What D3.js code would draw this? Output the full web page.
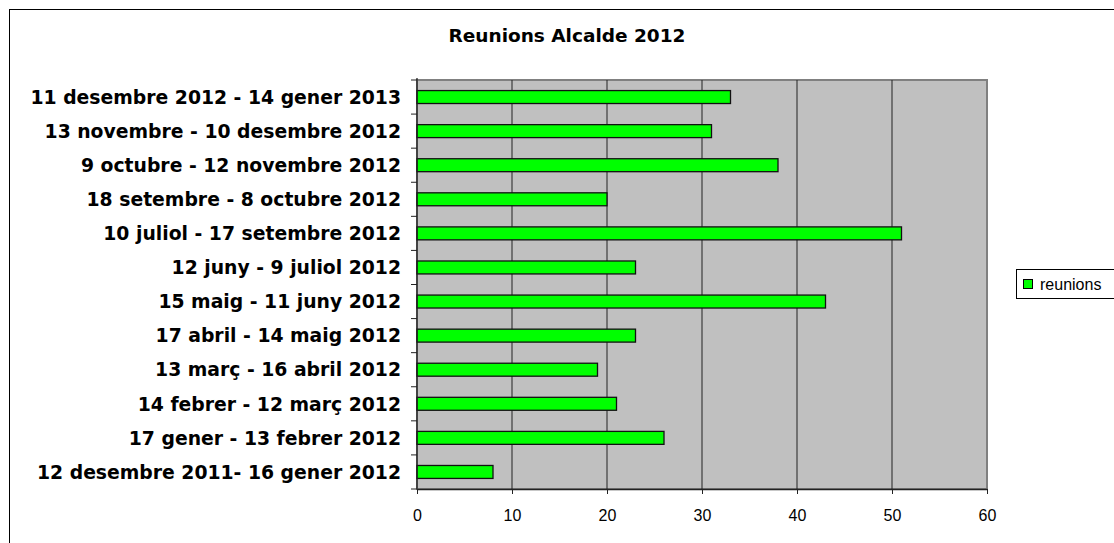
<!DOCTYPE html>
<html>
<head>
<meta charset="utf-8">
<script src="https://cdn.jsdelivr.net/npm/d3@7"></script>
<style>
  body { margin: 0; background: #fff; }
  svg { display: block; }
</style>
</head>
<body>
<div class="chart"></div>
<script>
var svgWidth = 1114;
var svgHeight = 543;

// periods, top to bottom as drawn
var periods = [
  "11 desembre 2012 - 14 gener 2013",
  "13 novembre - 10 desembre 2012",
  "9 octubre - 12 novembre 2012",
  "18 setembre - 8 octubre 2012",
  "10 juliol - 17 setembre 2012",
  "12 juny - 9 juliol 2012",
  "15 maig - 11 juny 2012",
  "17 abril - 14 maig 2012",
  "13 març - 16 abril 2012",
  "14 febrer - 12 març 2012",
  "17 gener - 13 febrer 2012",
  "12 desembre 2011- 16 gener 2012"
];
var reunions = [33, 31, 38, 20, 51, 23, 43, 23, 19, 21, 26, 8];
var xTicks = [0, 10, 20, 30, 40, 50, 60];

var svg = d3.select(".chart")
  .append("svg")
  .attr("width", svgWidth)
  .attr("height", svgHeight);

// outer chart border (runs off the right and bottom edges)
svg.append("rect")
  .attr("x", 9.5).attr("y", 9.5)
  .attr("width", 1120).attr("height", 560)
  .attr("fill", "#fff")
  .attr("stroke", "#000")
  .attr("stroke-width", 1);

var plot = { left: 417, top: 80, right: 987, bottom: 489 };

var x = d3.scaleLinear()
  .domain([0, 60])
  .range([plot.left, plot.right]);

var y = d3.scaleBand()
  .domain(periods)
  .range([plot.top, plot.bottom])
  .paddingInner(0.62)
  .paddingOuter(0.31);

var yOuter = d3.scaleBand()
  .domain(periods)
  .range([plot.top, plot.bottom]);

// title
svg.append("text")
  .attr("x", 567).attr("y", 42)
  .attr("text-anchor", "middle")
  .attr("font-family", "DejaVu Sans, Verdana, sans-serif")
  .attr("font-weight", "bold")
  .attr("font-size", 18.5)
  .text("Reunions Alcalde 2012");

// plot background
svg.append("rect")
  .attr("x", plot.left).attr("y", plot.top)
  .attr("width", plot.right - plot.left)
  .attr("height", plot.bottom - plot.top)
  .attr("fill", "#c0c0c0")
  .attr("stroke", "#808080")
  .attr("stroke-width", 2);

// gridlines
svg.selectAll("line.grid")
  .data(xTicks.slice(1, -1))
  .enter().append("line")
    .attr("class", "grid")
    .attr("x1", function(d) { return x(d); })
    .attr("x2", function(d) { return x(d); })
    .attr("y1", plot.top)
    .attr("y2", plot.bottom)
    .attr("stroke", "#222")
    .attr("stroke-width", 1);

// bars
svg.selectAll("rect.bar")
  .data(reunions)
  .enter().append("rect")
    .attr("class", "bar")
    .attr("x", x(0))
    .attr("y", function(d, i) { return y(periods[i]); })
    .attr("width", function(d) { return x(d) - x(0); })
    .attr("height", y.bandwidth())
    .attr("fill", "#00ff00")
    .attr("stroke", "#111")
    .attr("stroke-width", 1.3);

// x axis
var xAxis = d3.axisBottom(x)
  .tickValues(xTicks)
  .tickSize(5)
  .tickPadding(16)
  .tickSizeOuter(0);

var gx = svg.append("g")
  .attr("transform", "translate(0," + plot.bottom + ")")
  .call(xAxis);
gx.select(".domain").attr("stroke", "#222").attr("stroke-width", 1.3);
gx.selectAll(".tick line").attr("stroke", "#222");
gx.selectAll("text")
  .attr("font-family", "Liberation Sans, Arial, sans-serif")
  .attr("font-size", 16)
  .attr("fill", "#000");

// y axis line and ticks at band boundaries
svg.append("line")
  .attr("x1", plot.left).attr("x2", plot.left)
  .attr("y1", plot.top - 2).attr("y2", plot.bottom)
  .attr("stroke", "#222").attr("stroke-width", 1.3);

var bounds = periods.map(function(p) { return yOuter(p); }).concat([plot.bottom]);
svg.selectAll("line.ytick")
  .data(bounds)
  .enter().append("line")
    .attr("class", "ytick")
    .attr("x1", plot.left - 6)
    .attr("x2", plot.left)
    .attr("y1", function(d) { return d; })
    .attr("y2", function(d) { return d; })
    .attr("stroke", "#222");

svg.selectAll("text.ylabel")
  .data(periods)
  .enter().append("text")
    .attr("class", "ylabel")
    .attr("x", 401)
    .attr("y", function(d) { return yOuter(d) + yOuter.bandwidth() / 2; })
    .attr("dy", "0.36em")
    .attr("text-anchor", "end")
    .attr("font-family", "DejaVu Sans, Verdana, sans-serif")
    .attr("font-weight", "bold")
    .attr("font-size", 18.8)
    .text(function(d) { return d; });

// legend
var legend = svg.append("g");
legend.append("rect")
  .attr("x", 1016.5).attr("y", 269.5)
  .attr("width", 110).attr("height", 29)
  .attr("fill", "#fff")
  .attr("stroke", "#000");
legend.append("rect")
  .attr("x", 1023.5).attr("y", 279.5)
  .attr("width", 9).attr("height", 9)
  .attr("fill", "#00ff00")
  .attr("stroke", "#000");
legend.append("text")
  .attr("x", 1040).attr("y", 284)
  .attr("dy", "0.36em")
  .attr("font-family", "Liberation Sans, Arial, sans-serif")
  .attr("font-size", 16)
  .text("reunions");
</script>
</body>
</html>
